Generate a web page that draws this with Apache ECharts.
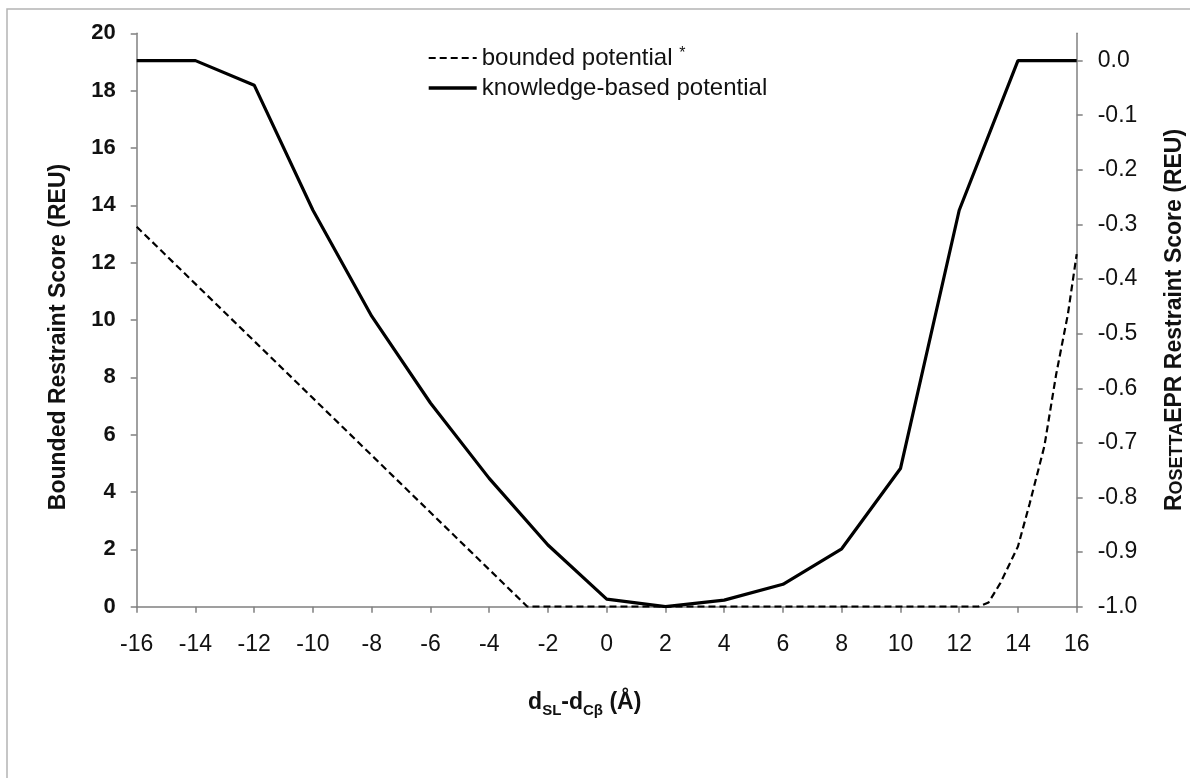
<!DOCTYPE html>
<html>
<head>
<meta charset="utf-8">
<script src="https://cdn.jsdelivr.net/npm/echarts@6/dist/echarts.min.js"></script>
<style>
  html, body { margin: 0; padding: 0; background: #fff; }
  #chart { width: 1190px; height: 778px; }
</style>
</head>
<body>
<div id="chart"></div>
<script>
// bounded potential (left axis)
const boundedX = [-16, -2.7, 12.65, 13.0, 13.4, 14.0, 14.4, 14.9, 15.3, 15.7, 16]
const boundedY = [13.25, 0, 0, 0.15, 0.82, 2.1, 3.6, 5.6, 8.1, 10.2, 12.3]

// knowledge-based potential (right axis)
const knowledgeX = [-16, -14, -12, -10, -8, -6, -4, -2, 0, 2, 4, 6, 8, 10, 12, 14, 16]
const knowledgeY = [0, 0, -0.045, -0.274, -0.468, -0.627, -0.765, -0.887, -0.986, -1.0, -0.988, -0.959, -0.894, -0.747, -0.274, 0, 0]

const rightTicks = [-1.0, -0.9, -0.8, -0.7, -0.6, -0.5, -0.4, -0.3, -0.2, -0.1, 0.0]

const FONT = '"Liberation Sans", Arial, sans-serif'
const AXIS_GRAY = '#808080'

const chart = echarts.init(document.getElementById('chart'))

const option = {
  animation: false,
  backgroundColor: '#fff',
  graphic: [{
    type: 'rect',
    silent: true,
    shape: { x: 7, y: 9, width: 1400, height: 900 },
    style: { fill: 'none', stroke: '#b4b4b4', lineWidth: 1.5 }
  }],
  grid: { left: 136.7, right: 113.3, top: 33.3, bottom: 171.3, outerBoundsMode: 'none' },
  legend: {
    orient: 'vertical',
    left: 427,
    top: 46,
    padding: 0,
    itemWidth: 48,
    itemHeight: 14,
    itemGap: 6,
    itemStyle: { opacity: 0 },
    data: [
      { name: 'bounded potential', lineStyle: { width: 2.2 } },
      { name: 'knowledge-based potential', lineStyle: { width: 3.4 } }
    ],
    formatter: name => name === 'bounded potential' ? name + ' {sup|*}' : name,
    textStyle: {
      fontFamily: FONT, fontSize: 24, color: '#111', lineHeight: 24,
      rich: { sup: { fontFamily: FONT, fontSize: 16, color: '#111', verticalAlign: 'top', lineHeight: 12 } }
    }
  },
  xAxis: {
    type: 'value',
    min: -16, max: 16, interval: 2,
    splitLine: { show: false },
    axisLine: { onZero: false, lineStyle: { color: AXIS_GRAY, width: 1.5 } },
    axisTick: { inside: false, length: 6, lineStyle: { color: AXIS_GRAY, width: 1.5 } },
    axisLabel: { margin: 26, fontFamily: FONT, fontSize: 23, color: '#111' },
    name: '{b|d}{sub|SL}{b|-d}{sub|Cβ}{b| (Å)}',
    nameLocation: 'middle',
    nameGap: 84,
    nameTextStyle: {
      padding: [0, 44, 0, 0],
      rich: {
        b: { fontFamily: FONT, fontSize: 23, fontWeight: 'bold', color: '#111', lineHeight: 26, verticalAlign: 'top' },
        sub: { fontFamily: FONT, fontSize: 15, fontWeight: 'bold', color: '#111', lineHeight: 16, verticalAlign: 'top', padding: [13, 0, 0, 0] }
      }
    }
  },
  yAxis: [
    {
      type: 'value',
      min: 0, max: 20, interval: 2,
      splitLine: { show: false },
      axisLine: { show: true, onZero: false, lineStyle: { color: AXIS_GRAY, width: 1.5 } },
      axisTick: { show: true, length: 6, lineStyle: { color: AXIS_GRAY, width: 1.5 } },
      axisLabel: { margin: 21, fontFamily: FONT, fontSize: 22, fontWeight: 'bold', color: '#111' },
      name: 'Bounded Restraint Score (REU)',
      nameLocation: 'middle',
      nameRotate: 90,
      nameGap: 67,
      nameTextStyle: { fontFamily: FONT, fontSize: 23, fontWeight: 'bold', color: '#111', padding: [0, 34, 0, 0] }
    },
    {
      type: 'value',
      position: 'right',
      min: -1.0, max: 0.05,
      splitLine: { show: false },
      axisLine: { show: true, onZero: false, lineStyle: { color: AXIS_GRAY, width: 1.5 } },
      axisTick: { show: true, length: 6, customValues: rightTicks, lineStyle: { color: AXIS_GRAY, width: 1.5 } },
      axisLabel: {
        margin: 21, fontFamily: FONT, fontSize: 23, color: '#111',
        customValues: rightTicks,
        formatter: v => v.toFixed(1)
      },
      name: '{a|R}{s|OSETTA}{a|EPR Restraint Score (REU)}',
      nameLocation: 'middle',
      nameRotate: 90,
      nameGap: 86,
      nameTextStyle: {
        rich: {
          a: { fontFamily: FONT, fontSize: 23, fontWeight: 'bold', color: '#111', lineHeight: 23, verticalAlign: 'bottom' },
          s: { fontFamily: FONT, fontSize: 18, fontWeight: 'bold', color: '#111', lineHeight: 18, verticalAlign: 'bottom' }
        }
      }
    }
  ],
  series: [
    {
      name: 'bounded potential',
      type: 'line',
      yAxisIndex: 0,
      symbol: 'none',
      data: boundedX.map((x, i) => [x, boundedY[i]]),
      lineStyle: { color: '#000', width: 2.2, type: [7, 4] },
      itemStyle: { color: '#000' },
      z: 3
    },
    {
      name: 'knowledge-based potential',
      type: 'line',
      yAxisIndex: 1,
      symbol: 'none',
      data: knowledgeX.map((x, i) => [x, knowledgeY[i]]),
      lineStyle: { color: '#000', width: 3.2 },
      itemStyle: { color: '#000' },
      z: 4
    }
  ]
}

chart.setOption(option)
</script>
</body>
</html>
